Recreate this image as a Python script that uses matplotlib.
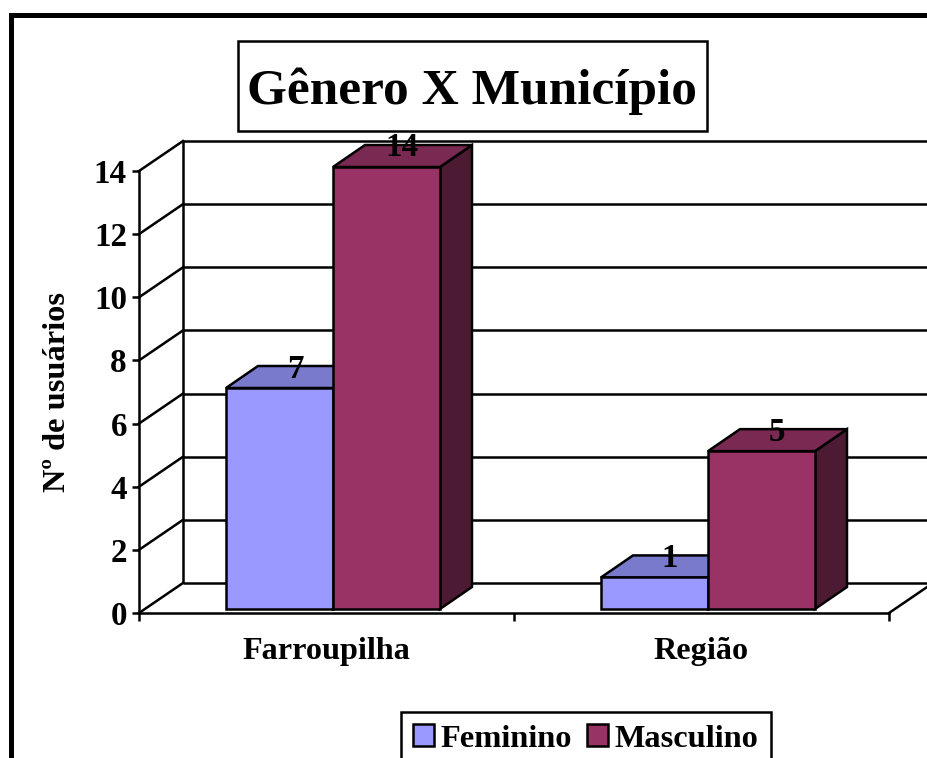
import matplotlib
matplotlib.use("Agg")
import matplotlib.pyplot as plt
from matplotlib.patches import Patch, Polygon, Rectangle
from matplotlib.transforms import Affine2D

# Values
CATEGORIES = ["Farroupilha", "Região"]
SERIES = ["Feminino", "Masculino"]
FEMININO = [7, 1]
MASCULINO = [14, 5]
Y_TICKS = [0, 2, 4, 6, 8, 10, 12, 14]

# Colours: front, top, side
COLORS = {
    "Feminino": ("#9999FF", "#7A7ACC", "#4D4D80"),
    "Masculino": ("#993366", "#7A2952", "#4D1A33"),
}

W, H = 928, 758
DPI = 100
LW = 2.5 * 72 / DPI
FONT = "Liberation Serif"
BAR_WIDTH = 0.2853


def px(n):
    return n * 72 / DPI


def shifted(ax, dx, dy):
    # data coords moved by some screen pixels, to fake the 3D depth
    return ax.transData + Affine2D().translate(dx, dy)


def draw_bar(ax, left, value, colors):
    right = left + BAR_WIDTH
    base = shifted(ax, 6.5, 4)
    back = shifted(ax, 38.5, 26)

    def to_screen(points, trans):
        return [trans.transform(p) for p in points]

    top = to_screen([(left, value), (right, value)], base) + to_screen([(right, value), (left, value)], back)
    side = to_screen([(right, 0), (right, value)], base) + to_screen([(right, value), (right, 0)], back)
    front = to_screen([(left, 0), (right, 0), (right, value), (left, value)], base)
    for pts, color in [(side, colors[2]), (top, colors[1]), (front, colors[0])]:
        ax.add_patch(Polygon(pts, closed=True, facecolor=color, edgecolor="black", lw=LW,
                             joinstyle="miter", transform=Affine2D(), clip_on=False, zorder=3))
    ax.annotate(str(value), xy=(left + BAR_WIDTH / 2, value), xytext=(px(22), px(23)),
                textcoords="offset points", ha="center", va="center",
                fontsize=px(33), fontweight="bold", family=FONT,
                zorder=5, annotation_clip=False)


def main():
    fig = plt.figure(figsize=(W / DPI, H / DPI), dpi=DPI, facecolor="white")
    ax = fig.add_axes([139 / W, 1 - 613 / H, 750 / W, 442 / H])
    ax.set_xlim(0, 2)
    ax.set_ylim(0, 14)
    ax.patch.set_visible(False)

    # outer frame, runs off the right and bottom of the picture
    fig.add_artist(Rectangle((11 / W, -0.05), 1.05, 1 - 15 / H + 0.05, transform=fig.transFigure,
                             facecolor="none", edgecolor="black", lw=px(5)))

    # back wall, side wall and floor
    back = shifted(ax, 44, 30)
    ax.hlines(Y_TICKS, 0, 2, color="black", lw=LW, transform=back, clip_on=False, zorder=1)
    ax.vlines(0, 0, 14, color="black", lw=LW, transform=back, clip_on=False, zorder=1)
    for v in Y_TICKS:
        p0 = ax.transData.transform((0, v))
        ax.plot([p0[0], p0[0] + 44], [p0[1], p0[1] + 30], color="black", lw=LW,
                transform=Affine2D(), clip_on=False, zorder=1)
    p1 = ax.transData.transform((2, 0))
    ax.plot([p1[0], p1[0] + 44], [p1[1], p1[1] + 30], color="black", lw=LW,
            transform=Affine2D(), clip_on=False, zorder=1)

    # bars
    for i in range(len(CATEGORIES)):
        center = i + 0.5
        draw_bar(ax, center - BAR_WIDTH, FEMININO[i], COLORS["Feminino"])
        draw_bar(ax, center, MASCULINO[i], COLORS["Masculino"])

    # axes
    for name in ["top", "right"]:
        ax.spines[name].set_visible(False)
    for name in ["left", "bottom"]:
        ax.spines[name].set_linewidth(LW)
        ax.spines[name].set_zorder(4)
    ax.set_yticks(Y_TICKS)
    ax.set_yticklabels([str(v) for v in Y_TICKS], fontsize=px(33), fontweight="bold", family=FONT)
    ax.tick_params(axis="y", length=px(7), width=LW, pad=px(5))
    ax.set_xticks([0, 1, 2])
    ax.set_xticklabels([])
    ax.tick_params(axis="x", length=px(8), width=LW)
    ax.set_xticks([0.5, 1.5], minor=True)
    ax.set_xticklabels(CATEGORIES, minor=True, fontsize=px(32.3), fontweight="bold", family=FONT)
    ax.tick_params(axis="x", which="minor", length=0, pad=px(24))
    fig.text(58 / W, 1 - 392 / H, "Nº de usuários", rotation=90, ha="center", va="center",
             fontsize=px(32.4), fontweight="bold", family=FONT)

    # title in its box
    fig.add_artist(Rectangle((238 / W, 1 - 131 / H), 469 / W, 90 / H, transform=fig.transFigure,
                             facecolor="white", edgecolor="black", lw=LW))
    fig.text(472 / W, 1 - 91 / H, "Gênero X Município", ha="center", va="center",
             fontsize=px(51.4), fontweight="bold", family=FONT)

    # legend, cut by the bottom edge
    handles = [Patch(facecolor=COLORS[s][0], edgecolor="black", lw=LW, label=s) for s in SERIES]
    leg = fig.legend(handles=handles, ncols=2, loc="upper left",
                     bbox_to_anchor=(401 / W, 1 - 712 / H), frameon=True, fancybox=False,
                     edgecolor="black", framealpha=1, borderpad=0.38, borderaxespad=0,
                     handlelength=0.65, handleheight=0.65, handletextpad=0.2, columnspacing=0.46,
                     prop={"family": FONT, "weight": "bold", "size": px(32.4)})
    leg.get_frame().set_linewidth(LW)

    fig.savefig("out.png", dpi=DPI)


if __name__ == "__main__":
    main()
